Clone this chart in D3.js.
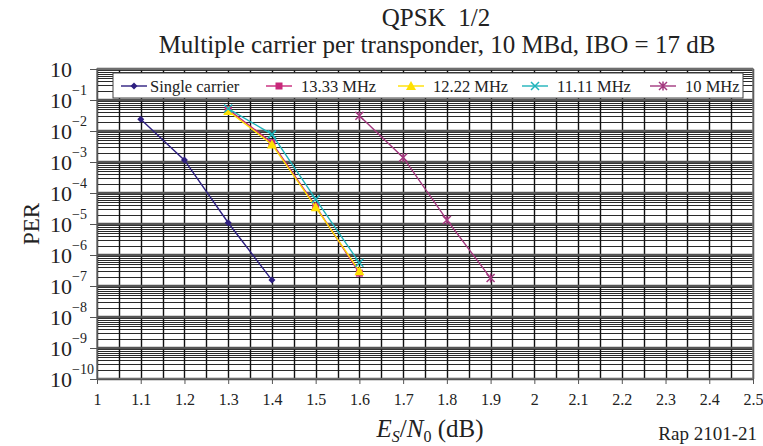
<!DOCTYPE html>
<html><head><meta charset="utf-8">
<script src="https://cdnjs.cloudflare.com/ajax/libs/d3/7.8.5/d3.min.js"></script>
<style>body{margin:0;background:#fff}</style>
</head><body><div id="chart"></div>
<script>
const seriesNames = ["Single carrier","13.33 MHz","12.22 MHz","11.11 MHz","10 MHz"];
const seriesColors = ["#2e1f80","#c8287a","#ffe000","#1fb3ba","#a3387f"];
const seriesMarkers = ["diamond","square","triangle","x","asterisk"];
const xSingle = [1.1,1.2,1.3,1.4];
const ySingle = [2.4e-2,1.15e-3,1.1e-5,1.55e-7];
const x1333 = [1.3,1.4,1.5,1.6];
const y1333 = [5.0e-2,4.2e-3,3.8e-5,2.6e-7];
const x1222 = [1.3,1.4,1.5,1.6];
const y1222 = [4.4e-2,3.7e-3,3.5e-5,3.0e-7];
const x1111 = [1.3,1.4,1.5,1.6];
const y1111 = [5.3e-2,7.8e-3,6.3e-5,5.6e-7];
const x10 = [1.6,1.7,1.8,1.9];
const y10 = [3.1e-2,1.4e-3,1.35e-5,1.8e-7];
const xTicks = [1,1.1,1.2,1.3,1.4,1.5,1.6,1.7,1.8,1.9,2,2.1,2.2,2.3,2.4,2.5];
const yExps = [0,-1,-2,-3,-4,-5,-6,-7,-8,-9,-10];
const titleLines = ["QPSK\u00a0\u00a01/2","Multiple carrier per transponder, 10 MBd, IBO = 17 dB"];

const seriesX = [xSingle,x1333,x1222,x1111,x10];
const seriesY = [ySingle,y1333,y1222,y1111,y10];

const FONT = "Liberation Serif";
const W=763,H=446, L=97, R=753, T=69, B=379;
const svg = d3.select("#chart").append("svg").attr("width",W).attr("height",H);
const x = d3.scaleLinear().domain([1,2.5]).range([L,R]);
const y = d3.scaleLog().domain([1e-10,1]).range([B,T]);

const g = svg.append("g");
const minor=[];
for(let e=-10;e<0;e++){for(let m=2;m<=9;m++){minor.push(m*Math.pow(10,e));}}
g.selectAll(".hm").data(minor).enter().append("line")
 .attr("x1",L).attr("x2",R).attr("y1",d=>Math.round(y(d))+0.5).attr("y2",d=>Math.round(y(d))+0.5)
 .attr("stroke","#2a2a2a").attr("stroke-width",1);
const vgrid=d3.range(1,2.5001,0.05);
g.selectAll(".vg").data(vgrid).enter().append("line")
 .attr("y1",T).attr("y2",B).attr("x1",d=>Math.round(x(d))+0.5).attr("x2",d=>Math.round(x(d))+0.5)
 .attr("stroke","#111").attr("stroke-width",1.4);
g.selectAll(".hM").data(yExps).enter().append("line")
 .attr("x1",L).attr("x2",R).attr("y1",d=>y(Math.pow(10,d))).attr("y2",d=>y(Math.pow(10,d)))
 .attr("stroke","#555").attr("stroke-width",2.5);
svg.append("rect").attr("x",L).attr("y",T).attr("width",R-L).attr("height",B-T)
 .attr("fill","none").attr("stroke","#777").attr("stroke-width",1.5);

const xAxis = d3.axisBottom(x).tickValues(xTicks).tickSize(5).tickFormat(d=>d3.format("~g")(d));
const xa = svg.append("g").attr("transform",`translate(0,${B})`).call(xAxis);
xa.attr("font-family",FONT);
xa.select(".domain").attr("stroke","#555");
xa.selectAll(".tick line").attr("stroke","#555");
xa.selectAll("text").attr("font-family",FONT).attr("font-size",16).attr("fill","#222").attr("dy","1.15em");

const yAxis = d3.axisLeft(y).tickValues(yExps.map(e=>Math.pow(10,e))).tickSize(7).tickFormat("");
const ya = svg.append("g").attr("transform",`translate(${L},0)`).call(yAxis);
ya.select(".domain").attr("stroke","#555");
ya.selectAll(".tick line").attr("stroke","#555");
const yl = svg.append("g").selectAll("text").data(yExps).enter().append("text")
 .attr("font-family",FONT)
 .attr("x",50).attr("y",d=>y(Math.pow(10,d))+8).attr("font-size",22).attr("fill","#222");
yl.append("tspan").text("10");
yl.filter(d=>d!==0).append("tspan").attr("font-size",14).attr("dy",-13).text(d=>"\u2212"+(-d));

function marker(sel,type,color){
  const s=3.5;
  if(type==="diamond"){sel.append("path").attr("d",`M0,${-s}L${s},0L0,${s}L${-s},0Z`).attr("fill",color);}
  else if(type==="square"){sel.append("rect").attr("x",-3.5).attr("y",-3.5).attr("width",7).attr("height",7).attr("fill",color);}
  else if(type==="triangle"){sel.append("path").attr("d","M0,-5L5,4L-5,4Z").attr("fill",color);}
  else if(type==="x"){sel.append("path").attr("d","M-4,-4L4,4M-4,4L4,-4").attr("stroke",color).attr("stroke-width",1.5);}
  else if(type==="asterisk"){sel.append("path").attr("d","M-4,-4L4,4M-4,4L4,-4M0,-4.5L0,4.5").attr("stroke",color).attr("stroke-width",1.5);}
}
const line = d3.line().x(d=>x(d[0])).y(d=>y(d[1]));
seriesNames.forEach((n,i)=>{
  const pts = seriesX[i].map((v,j)=>[v,seriesY[i][j]]);
  svg.append("path").datum(pts).attr("d",line).attr("fill","none").attr("stroke",seriesColors[i]).attr("stroke-width",1.4);
  pts.forEach(p=>{
    const m=svg.append("g").attr("transform",`translate(${x(p[0])},${y(p[1])})`);
    marker(m,seriesMarkers[i],seriesColors[i]);
  });
});

svg.append("rect").attr("x",113).attr("y",73).attr("width",630).attr("height",25)
 .attr("fill","#fff").attr("stroke","#444").attr("stroke-width",1);
const legX=[121,266,398,522,650];
seriesNames.forEach((n,i)=>{
  const lg=svg.append("g").attr("transform",`translate(${legX[i]},86)`);
  lg.append("line").attr("x1",0).attr("x2",26).attr("stroke",seriesColors[i]).attr("stroke-width",1.4);
  const m=lg.append("g").attr("transform","translate(13,0)");
  marker(m,seriesMarkers[i],seriesColors[i]);
  lg.append("text").attr("font-family",FONT).attr("x",i===0?29:35).attr("y",6).attr("font-size",16.5).attr("fill","#222").text(n);
});

function txt(xp,yp,s,size,anchor){
  return svg.append("text").attr("font-family",FONT).attr("x",xp).attr("y",yp).attr("text-anchor",anchor||"middle").attr("font-size",size).attr("fill","#222").text(s);
}
txt(436,26,titleLines[0],25);
txt(437,53,titleLines[1],25);
svg.append("text").attr("font-family",FONT).attr("transform","translate(39,224) rotate(-90)").attr("text-anchor","middle").attr("font-size",23).attr("fill","#222").text("PER");
const xl=svg.append("text").attr("font-family",FONT).attr("x",430).attr("y",437).attr("text-anchor","middle").attr("font-size",25).attr("fill","#222");
xl.append("tspan").attr("font-style","italic").text("E");
xl.append("tspan").attr("font-style","italic").attr("font-size",16).attr("dy",5).text("S");
xl.append("tspan").attr("dy",-5).text("/");
xl.append("tspan").attr("font-style","italic").text("N");
xl.append("tspan").attr("font-size",16).attr("dy",5).text("0");
xl.append("tspan").attr("dy",-5).text(" (dB)");
txt(757,440,"Rap 2101-21",19,"end");
</script></body></html>
